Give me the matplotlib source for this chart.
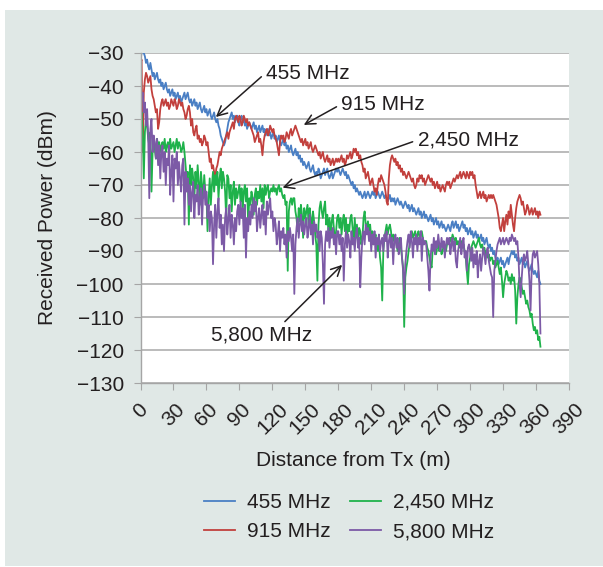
import numpy as np
import matplotlib.pyplot as plt
from matplotlib.patches import Rectangle

plt.rcParams['font.family'] = ['Liberation Sans', 'DejaVu Sans']

# one sample per metre, 0..364 m
dist = np.arange(0, 365)

p455 = [-32, -30, -29, -30, -31, -33, -32, -34, -35, -33, -35, -37, -36, -38, -37, -36, -38, -39, -38, -40,
        -39, -41, -40, -39, -41, -42, -41, -43, -42, -41, -43, -42, -44, -43, -42, -44, -43, -45, -44, -43,
        -42, -44, -43, -42, -44, -45, -44, -46, -45, -44, -46, -45, -47, -46, -45, -47, -48, -47, -46, -48,
        -47, -49, -48, -47, -49, -50, -49, -48, -50, -51, -50, -52, -53, -55, -56, -57, -58, -57, -55, -53,
        -51, -50, -49, -48, -50, -49, -51, -50, -49, -51, -52, -50, -49, -51, -50, -52, -51, -53, -52, -51,
        -52, -53, -52, -51, -53, -52, -54, -53, -52, -54, -53, -52, -54, -53, -55, -54, -53, -55, -54, -56,
        -55, -54, -56, -55, -57, -56, -55, -57, -58, -57, -56, -58, -57, -59, -58, -60, -59, -58, -60, -61,
        -60, -59, -61, -60, -62, -61, -63, -62, -64, -63, -64, -65, -64, -63, -65, -66, -65, -64, -66, -67,
        -66, -67, -65, -66, -68, -67, -66, -65, -67, -66, -65, -67, -68, -67, -66, -68, -67, -66, -65, -66,
        -65, -66, -67, -66, -65, -66, -67, -66, -68, -67, -68, -69, -70, -69, -71, -70, -72, -71, -72, -73,
        -72, -73, -74, -73, -72, -74, -73, -72, -73, -74, -73, -72, -73, -72, -74, -73, -72, -73, -74, -73,
        -72, -73, -74, -73, -74, -75, -74, -73, -75, -74, -75, -74, -76, -75, -74, -75, -76, -75, -76, -77,
        -76, -75, -76, -77, -76, -78, -77, -76, -78, -77, -78, -79, -78, -77, -79, -78, -80, -79, -78, -80,
        -79, -80, -81, -80, -79, -81, -80, -82, -81, -80, -82, -81, -83, -82, -81, -83, -82, -83, -84, -83,
        -82, -83, -84, -82, -81, -83, -82, -81, -83, -82, -84, -83, -82, -81, -83, -82, -84, -83, -85, -84,
        -83, -85, -84, -86, -85, -84, -86, -85, -87, -86, -85, -87, -86, -88, -87, -86, -88, -89, -88, -90,
        -89, -91, -90, -92, -93, -92, -94, -93, -92, -94, -93, -95, -94, -93, -92, -94, -92, -91, -90, -91,
        -90, -92, -91, -93, -92, -94, -93, -92, -94, -93, -95, -94, -93, -95, -96, -95, -94, -96, -97, -96,
        -97, -98, -96, -99, -100]

p915 = [-33, -32, -60, -42, -38, -36, -37, -39, -38, -37, -41, -43, -44, -46, -48, -47, -53, -51, -47, -45,
        -44, -46, -45, -44, -46, -45, -47, -46, -44, -45, -46, -44, -45, -47, -46, -44, -45, -46, -45, -47,
        -48, -50, -49, -47, -46, -48, -52, -50, -54, -55, -53, -52, -56, -55, -57, -56, -58, -57, -55, -56,
        -58, -57, -60, -63, -62, -65, -64, -66, -68, -65, -64, -62, -60, -61, -59, -58, -57, -56, -55, -54,
        -56, -54, -53, -52, -51, -53, -50, -49, -50, -51, -49, -50, -52, -51, -49, -50, -51, -50, -52, -51,
        -52, -53, -54, -55, -57, -56, -55, -54, -57, -56, -58, -61, -57, -55, -54, -53, -55, -54, -52, -53,
        -54, -53, -55, -56, -57, -59, -61, -57, -55, -56, -55, -57, -56, -54, -55, -56, -54, -53, -55, -54,
        -53, -52, -53, -54, -55, -56, -57, -56, -58, -57, -56, -58, -57, -59, -58, -57, -59, -60, -59, -58,
        -59, -60, -61, -60, -62, -61, -60, -62, -63, -62, -61, -63, -62, -64, -63, -62, -64, -63, -62, -63,
        -62, -63, -62, -61, -63, -62, -64, -63, -61, -62, -61, -60, -62, -61, -59, -60, -59, -61, -60, -62,
        -61, -63, -64, -66, -65, -68, -67, -66, -68, -70, -69, -68, -70, -72, -71, -73, -70, -68, -69, -67,
        -68, -69, -70, -72, -75, -76, -68, -64, -62, -61, -62, -63, -62, -64, -63, -65, -64, -66, -65, -67,
        -66, -67, -68, -67, -66, -67, -68, -69, -68, -70, -71, -70, -68, -69, -67, -68, -67, -69, -68, -70,
        -69, -68, -67, -68, -69, -68, -70, -69, -71, -70, -69, -71, -70, -72, -71, -70, -71, -72, -70, -69,
        -70, -69, -71, -70, -69, -68, -69, -68, -67, -68, -67, -66, -68, -67, -66, -67, -68, -66, -67, -68,
        -66, -67, -66, -68, -67, -70, -72, -74, -73, -72, -74, -73, -72, -74, -73, -75, -74, -73, -74, -73,
        -74, -73, -74, -75, -76, -78, -80, -83, -84, -82, -80, -84, -81, -79, -82, -78, -80, -76, -79, -82,
        -84, -80, -77, -75, -74, -73, -74, -76, -75, -77, -79, -78, -76, -77, -79, -78, -77, -79, -78, -77,
        -79, -78, -80, -78, -79]

p2450 = [-50, -48, -55, -68, -54, -50, -52, -56, -58, -54, -72, -60, -57, -59, -62, -56, -58, -57, -60, -58,
         -57, -59, -56, -60, -58, -57, -61, -56, -59, -58, -57, -60, -58, -56, -59, -57, -58, -60, -59, -57,
         -60, -64, -68, -66, -82, -64, -70, -65, -68, -74, -66, -71, -64, -69, -76, -66, -70, -74, -67, -72,
         -73, -84, -74, -68, -76, -70, -66, -72, -67, -70, -66, -74, -68, -65, -71, -66, -68, -72, -80, -67,
         -68, -74, -70, -78, -72, -69, -76, -71, -74, -72, -70, -75, -71, -78, -72, -70, -75, -71, -82, -74,
         -76, -72, -74, -79, -73, -71, -76, -72, -74, -70, -75, -71, -77, -70, -73, -71, -70, -74, -72, -71,
         -72, -70, -72, -71, -73, -71, -70, -72, -71, -73, -74, -73, -76, -75, -96, -78, -75, -74, -76, -74,
         -74, -78, -80, -84, -77, -81, -76, -79, -86, -77, -80, -78, -76, -82, -77, -80, -84, -78, -81, -85,
         -88, -99, -82, -77, -75, -78, -80, -77, -75, -82, -79, -84, -80, -86, -81, -79, -83, -88, -84, -80,
         -79, -83, -80, -85, -81, -79, -84, -80, -86, -82, -84, -80, -79, -83, -88, -80, -86, -82, -87, -83,
         -84, -88, -86, -80, -78, -82, -83, -81, -84, -82, -86, -84, -88, -86, -85, -88, -90, -87, -92, -95,
         -105, -90, -86, -84, -82, -85, -83, -82, -84, -88, -85, -87, -86, -88, -90, -88, -86, -89, -92, -95,
         -113, -98, -95, -93, -90, -88, -86, -84, -86, -85, -84, -87, -85, -84, -86, -85, -84, -86, -88, -87,
         -87, -89, -90, -92, -94, -95, -89, -88, -90, -91, -89, -88, -90, -89, -91, -90, -88, -89, -90, -88,
         -87, -88, -86, -87, -85, -86, -87, -86, -88, -87, -89, -88, -87, -89, -88, -90, -92, -96, -100, -94,
         -92, -89, -88, -87, -88, -89, -88, -87, -86, -88, -89, -88, -90, -89, -91, -90, -92, -91, -93, -92,
         -92, -94, -93, -95, -94, -93, -95, -97, -95, -99, -104, -100, -98, -96, -97, -99, -98, -100, -97, -99,
         -98, -102, -112, -104, -100, -98, -99, -101, -103, -102, -104, -106, -105, -107, -108, -110, -109, -112, -114, -113,
         -115, -114, -117, -116, -119]

p5800 = [-38, -44, -42, -48, -45, -52, -47, -55, -74, -53, -50, -60, -55, -57, -62, -56, -64, -58, -68, -60,
         -58, -66, -60, -70, -62, -64, -58, -73, -66, -61, -75, -62, -65, -60, -70, -63, -68, -72, -64, -62,
         -82, -66, -72, -68, -76, -70, -78, -72, -69, -80, -73, -75, -70, -79, -74, -71, -82, -73, -70, -76,
         -72, -80, -76, -84, -78, -80, -94, -82, -76, -86, -78, -74, -83, -79, -88, -82, -90, -80, -77, -85,
         -80, -76, -86, -79, -82, -88, -80, -84, -78, -76, -82, -75, -80, -77, -86, -76, -92, -80, -84, -78,
         -82, -76, -80, -74, -78, -75, -84, -80, -77, -83, -79, -76, -82, -78, -85, -75, -79, -76, -74, -80,
         -78, -84, -80, -82, -88, -85, -81, -90, -84, -86, -83, -88, -85, -92, -84, -87, -83, -86, -90, -85,
         -103, -88, -83, -80, -86, -82, -79, -84, -81, -85, -82, -80, -86, -83, -79, -85, -82, -88, -81, -84,
         -82, -86, -84, -90, -84, -86, -94, -106, -88, -84, -87, -83, -89, -84, -86, -83, -88, -85, -91, -84,
         -84, -88, -85, -90, -86, -99, -88, -84, -89, -85, -87, -92, -84, -88, -86, -90, -85, -83, -89, -86,
         -101, -92, -86, -84, -88, -82, -85, -83, -87, -84, -90, -85, -88, -84, -92, -86, -88, -85, -90, -87,
         -86, -90, -85, -87, -84, -92, -87, -85, -89, -86, -94, -87, -85, -89, -86, -91, -88, -86, -92, -96,
         -103, -94, -90, -87, -85, -89, -84, -87, -92, -86, -88, -85, -90, -86, -88, -84, -93, -86, -88, -87,
         -88, -92, -96, -102, -92, -88, -90, -86, -91, -87, -89, -85, -88, -90, -86, -89, -87, -92, -88, -86,
         -88, -86, -91, -88, -86, -90, -87, -93, -95, -90, -88, -86, -91, -88, -86, -92, -90, -96, -89, -88,
         -90, -93, -89, -95, -91, -94, -90, -98, -93, -91, -96, -92, -89, -91, -94, -90, -89, -93, -95, -97,
         -98, -110, -96, -93, -90, -88, -87, -86, -88, -87, -86, -88, -87, -86, -87, -88, -86, -87, -85, -86,
         -87, -86, -88, -87, -92, -100, -104, -98, -93, -91, -93, -92, -90, -94, -99, -108, -96, -91, -90, -92,
         -91, -90, -94, -100, -115]

labels = ['455 MHz', '915 MHz', '2,450 MHz', '5,800 MHz']
colors = ['#4a7fc4', '#c2403d', '#1fb24b', '#7c5aa6']

W, H = 603, 567
fig = plt.figure(figsize=(W / 100, H / 100), dpi=100, facecolor='white')
fig.patches.append(Rectangle((5 / W, 1 - 566 / H), 598 / W, 556 / H,
                             transform=fig.transFigure, facecolor='#e0e8e6',
                             edgecolor='none', zorder=-10))

ax = fig.add_axes([140.5 / W, 1 - 383 / H, 428.5 / W, 330 / H])
ax.set_facecolor('white')

lines = []
for vals, lab, c in zip([p455, p915, p2450, p5800], labels, colors):
    ln, = ax.plot(dist, vals, color=c, lw=1.3, label=lab)
    lines.append(ln)

ax.set_xlim(0, 390)
ax.set_ylim(-130, -30)
ax.set_xticks(range(0, 391, 30))
ax.set_yticks(range(-130, -29, 10))
ax.yaxis.grid(True, color='#b5b5b5', lw=1.3)
ax.set_axisbelow(True)
for s in ['top', 'right']:
    ax.spines[s].set_visible(False)
for s in ['left', 'bottom']:
    ax.spines[s].set_color('#a5a5a5')
    ax.spines[s].set_linewidth(1.0)
ax.tick_params(axis='both', direction='out', length=5, color='#a5a5a5',
               labelsize=15, labelcolor='#231f20')
ax.tick_params(axis='y', pad=7)
ax.tick_params(axis='x', pad=7)
for t in ax.get_xticklabels():
    t.set_rotation(45)
    t.set_ha('center')

# annotations
ann = [('455 MHz', (113.8, -36.2), (110, -37.2), (68.6, -49.4)),
       ('915 MHz', (182.9, -45.5), (178.4, -46.3), (148.6, -51.8)),
       ('2,450 MHz', (252.5, -56.4), (247.7, -56.9), (129.3, -70.8)),
       ('5,800 MHz', (63.8, -115.5), (131.4, -111.4), (183.5, -94.2))]
for txt, tpos, tail, tip in ann:
    ax.text(tpos[0], tpos[1], txt, fontsize=15, color='#231f20',
            ha='left', va='center')
    ax.annotate('', xy=tip, xytext=tail,
                arrowprops=dict(arrowstyle='->,head_length=0.5,head_width=0.25',
                                color='#231f20', lw=1.1, mutation_scale=14,
                                shrinkA=0, shrinkB=0))

fig.text(48 / W, 1 - 218 / H, 'Received Power (dBm)', rotation=90,
         ha='center', va='center', fontsize=15, color='#231f20')
fig.text(353 / W, 1 - 461 / H, 'Distance from Tx (m)',
         ha='center', va='center', fontsize=15, color='#231f20')

fig.legend(handles=lines, loc='center', bbox_to_anchor=(349 / W, 1 - 517 / H),
           ncol=2, frameon=False, fontsize=15, handlelength=1.5,
           handletextpad=0.55, columnspacing=0.95, labelspacing=0.5,
           labelcolor='#231f20')

fig.savefig('out.png', dpi=100, facecolor='white')
